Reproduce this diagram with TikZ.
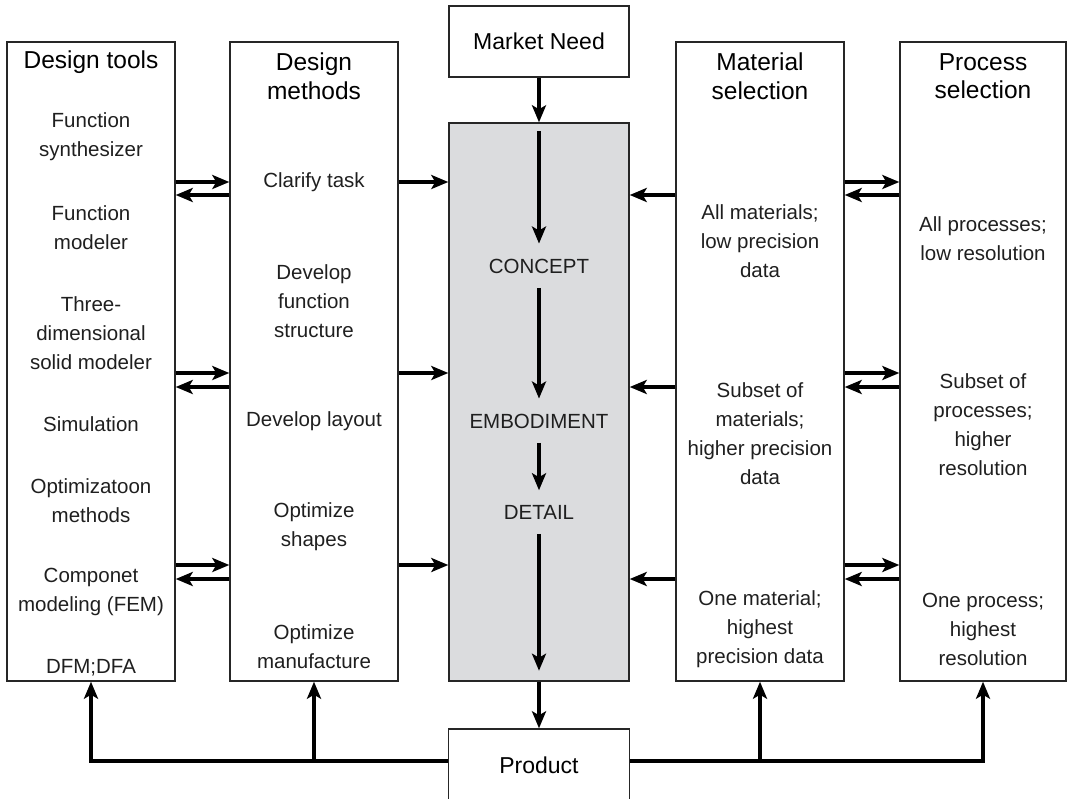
\documentclass[tikz,border=0pt]{standalone}
\usepackage{fontspec}
\setmainfont{Liberation Sans}
\usetikzlibrary{arrows.meta}
\definecolor{boxgray}{RGB}{219,220,222}
\begin{document}
\begin{tikzpicture}[x=1pt,y=-1pt,
  col/.style={draw=black!85, line width=1.4pt, inner sep=0pt},
  lbl/.style={align=center, font=\fontsize{20.5}{29}\selectfont, inner sep=0pt, text=black!88},
  ttl/.style={align=center, font=\fontsize{24.5}{28.5}\selectfont, inner sep=0pt},
  conn/.style={draw=black, line width=3.4pt, -{Stealth[length=17pt,width=14pt,inset=4pt]}}
]
\useasboundingbox (0,0) rectangle (1067,798);

% boxes
\node[col, minimum width=168pt, minimum height=639pt] (tools) at (91,361.5) {};
\node[col, minimum width=168pt, minimum height=639pt] (methods) at (314,361.5) {};
\node[col, minimum width=168pt, minimum height=639pt] (material) at (760,361.5) {};
\node[col, minimum width=166pt, minimum height=639pt] (process) at (983,361.5) {};
\node[col, fill=boxgray, minimum width=180pt, minimum height=558pt] (center) at (539,402) {};
\node[col, minimum width=180pt, minimum height=71pt, font=\fontsize{23}{28}\selectfont] (need) at (539,41.5) {Market Need};
\node[col, minimum width=181pt, minimum height=72pt, font=\fontsize{23}{28}\selectfont] (product) at (539,765) {Product};

% titles
\node[ttl] (t1) at (91,62) {Design tools};
\node[ttl] (t2) at (314,76) {Design\\methods};
\node[ttl] (t3) at (760,76) {Material\\selection};
\node[ttl] (t4) at (983,76) {Process\\selection};

% design tools
\node[lbl] (a1) at (91,136.5) {Function\\synthesizer};
\node[lbl] (a2) at (91,227.5) {Function\\modeler};
\node[lbl] (a3) at (91,333) {Three-\\dimensional\\solid modeler};
\node[lbl] (a4) at (91,424) {Simulation};
\node[lbl] (a5) at (91,500.5) {Optimizatoon\\methods};
\node[lbl] (a6) at (91,591.5) {Componet\\modeling (FEM)};
\node[lbl] (a7) at (91,668) {DFM;DFA};

% design methods
\node[lbl] (b1) at (314,182) {Clarify task};
\node[lbl] (b2) at (314,301) {Develop\\function\\structure};
\node[lbl] (b3) at (314,421) {Develop layout};
\node[lbl] (b4) at (314,526.5) {Optimize\\shapes};
\node[lbl] (b5) at (314,646.5) {Optimize\\manufacture};

% center
\node[lbl] (concept) at (539,266) {CONCEPT};
\node[lbl] (embod) at (539,421) {EMBODIMENT};
\node[lbl] (detail) at (539,512) {DETAIL};

% material selection
\node[lbl] (m1) at (760,241) {All materials;\\low precision\\data};
\node[lbl] (m2) at (760,433.5) {Subset of\\materials;\\higher precision\\data};
\node[lbl] (m3) at (760,629) {One material;\\highest\\precision data};

% process selection
\node[lbl] (p1) at (983,238.5) {All processes;\\low resolution};
\node[lbl] (p2) at (983,425) {Subset of\\processes;\\higher\\resolution};
\node[lbl] (p3) at (983,629) {One process;\\highest\\resolution};

% levels
\coordinate (u1) at (0,182); \coordinate (d1) at (0,195);
\coordinate (u2) at (0,373); \coordinate (d2) at (0,387);
\coordinate (u3) at (0,565); \coordinate (d3) at (0,579);
\coordinate (yb) at (0,761);

\foreach \u/\d in {u1/d1,u2/d2,u3/d3}{
  \draw[conn] (tools.east |- \u) -- (methods.west |- \u);
  \draw[conn] (methods.west |- \d) -- (tools.east |- \d);
  \draw[conn] (methods.east |- \u) -- (center.west |- \u);
  \draw[conn] (material.west |- \d) -- (center.east |- \d);
  \draw[conn] (material.east |- \u) -- (process.west |- \u);
  \draw[conn] (process.west |- \d) -- (material.east |- \d);
}

% vertical flow
\draw[conn] (need.south) -- (center.north);
\draw[conn] ([yshift=-9pt]center.north) -- ([yshift=15pt]concept.north);
\draw[conn] ([yshift=-14.5pt]concept.south) -- ([yshift=15pt]embod.north);
\draw[conn] ([yshift=-14.5pt]embod.south) -- ([yshift=14.5pt]detail.north);
\draw[conn] ([yshift=-14.5pt]detail.south) -- ([yshift=11pt]center.south);
\draw[conn] (center.south) -- (product.north);

% feedback from product
\draw[conn] (product.west |- yb) -| (tools.south);
\draw[conn] (methods.south |- yb) -- (methods.south);
\draw[conn] (product.east |- yb) -| (process.south);
\draw[conn] (material.south |- yb) -- (material.south);
\end{tikzpicture}
\end{document}
